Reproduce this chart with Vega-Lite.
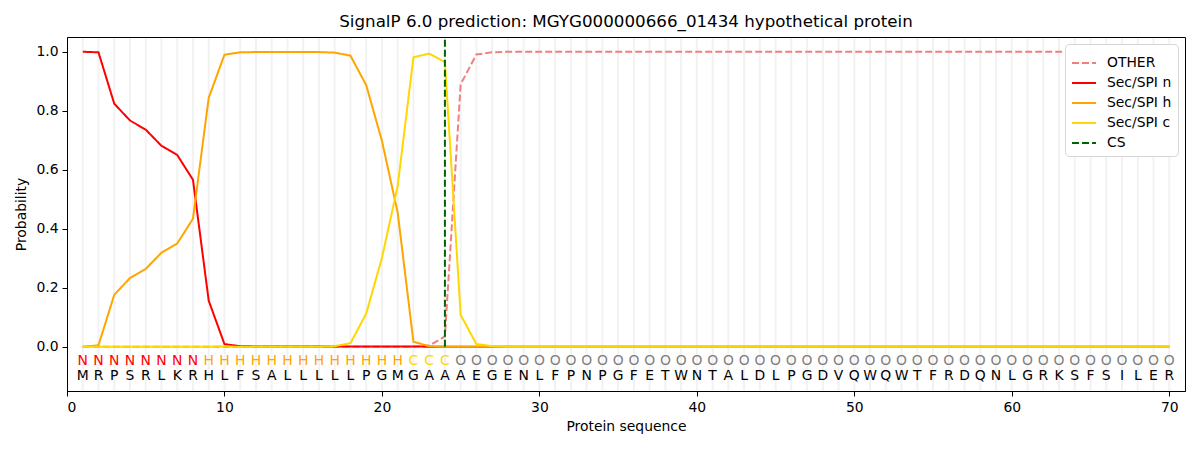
{
  "$schema": "https://vega.github.io/schema/vega-lite/v6.json",
  "width": 1118,
  "height": 354,
  "autosize": {"type": "none"},
  "padding": {"left": 67, "top": 37, "right": 15, "bottom": 59},
  "background": "white",
  "title": {
    "text": "SignalP 6.0 prediction: MGYG000000666_01434 hypothetical protein",
    "font": "DejaVu Sans",
    "fontSize": 16.7,
    "fontWeight": "normal",
    "color": "black",
    "offset": 5
  },
  "config": {
    "view": {"stroke": "black", "strokeWidth": 1},
    "axis": {
      "labelFont": "DejaVu Sans",
      "titleFont": "DejaVu Sans",
      "labelFontSize": 13.9,
      "titleFontSize": 13.9,
      "titleFontWeight": "normal",
      "labelColor": "black",
      "titleColor": "black",
      "domainColor": "black",
      "tickColor": "black",
      "tickSize": 5,
      "grid": false
    },
    "legend": {
      "labelFont": "DejaVu Sans",
      "labelFontSize": 13.9,
      "labelColor": "black"
    }
  },
  "datasets": {
    "seq": [
      {"pos": 1, "aa": "M", "lab": "N", "OTHER": 0, "Sec/SPI n": 1.0, "Sec/SPI h": 0, "Sec/SPI c": 0},
      {"pos": 2, "aa": "R", "lab": "N", "OTHER": 0, "Sec/SPI n": 0.998, "Sec/SPI h": 0.005, "Sec/SPI c": 0},
      {"pos": 3, "aa": "P", "lab": "N", "OTHER": 0, "Sec/SPI n": 0.824, "Sec/SPI h": 0.176, "Sec/SPI c": 0},
      {"pos": 4, "aa": "S", "lab": "N", "OTHER": 0, "Sec/SPI n": 0.767, "Sec/SPI h": 0.233, "Sec/SPI c": 0},
      {"pos": 5, "aa": "R", "lab": "N", "OTHER": 0, "Sec/SPI n": 0.736, "Sec/SPI h": 0.264, "Sec/SPI c": 0},
      {"pos": 6, "aa": "L", "lab": "N", "OTHER": 0, "Sec/SPI n": 0.681, "Sec/SPI h": 0.319, "Sec/SPI c": 0},
      {"pos": 7, "aa": "K", "lab": "N", "OTHER": 0, "Sec/SPI n": 0.65, "Sec/SPI h": 0.35, "Sec/SPI c": 0},
      {"pos": 8, "aa": "R", "lab": "N", "OTHER": 0, "Sec/SPI n": 0.566, "Sec/SPI h": 0.434, "Sec/SPI c": 0},
      {"pos": 9, "aa": "H", "lab": "H", "OTHER": 0, "Sec/SPI n": 0.156, "Sec/SPI h": 0.844, "Sec/SPI c": 0},
      {"pos": 10, "aa": "L", "lab": "H", "OTHER": 0, "Sec/SPI n": 0.009, "Sec/SPI h": 0.99, "Sec/SPI c": 0.001},
      {"pos": 11, "aa": "F", "lab": "H", "OTHER": 0, "Sec/SPI n": 0.002, "Sec/SPI h": 0.998, "Sec/SPI c": 0},
      {"pos": 12, "aa": "S", "lab": "H", "OTHER": 0, "Sec/SPI n": 0.001, "Sec/SPI h": 0.999, "Sec/SPI c": 0},
      {"pos": 13, "aa": "A", "lab": "H", "OTHER": 0, "Sec/SPI n": 0.001, "Sec/SPI h": 0.999, "Sec/SPI c": 0},
      {"pos": 14, "aa": "L", "lab": "H", "OTHER": 0, "Sec/SPI n": 0.001, "Sec/SPI h": 0.999, "Sec/SPI c": 0},
      {"pos": 15, "aa": "L", "lab": "H", "OTHER": 0, "Sec/SPI n": 0.001, "Sec/SPI h": 0.999, "Sec/SPI c": 0},
      {"pos": 16, "aa": "L", "lab": "H", "OTHER": 0, "Sec/SPI n": 0.001, "Sec/SPI h": 0.999, "Sec/SPI c": 0},
      {"pos": 17, "aa": "L", "lab": "H", "OTHER": 0, "Sec/SPI n": 0.001, "Sec/SPI h": 0.997, "Sec/SPI c": 0.002},
      {"pos": 18, "aa": "L", "lab": "H", "OTHER": 0, "Sec/SPI n": 0.001, "Sec/SPI h": 0.987, "Sec/SPI c": 0.012},
      {"pos": 19, "aa": "P", "lab": "H", "OTHER": 0, "Sec/SPI n": 0.001, "Sec/SPI h": 0.887, "Sec/SPI c": 0.112},
      {"pos": 20, "aa": "G", "lab": "H", "OTHER": 0, "Sec/SPI n": 0.001, "Sec/SPI h": 0.698, "Sec/SPI c": 0.301},
      {"pos": 21, "aa": "M", "lab": "H", "OTHER": 0, "Sec/SPI n": 0.001, "Sec/SPI h": 0.455, "Sec/SPI c": 0.545},
      {"pos": 22, "aa": "G", "lab": "C", "OTHER": 0, "Sec/SPI n": 0.001, "Sec/SPI h": 0.017, "Sec/SPI c": 0.981},
      {"pos": 23, "aa": "A", "lab": "C", "OTHER": 0.004, "Sec/SPI n": 0, "Sec/SPI h": 0.002, "Sec/SPI c": 0.994},
      {"pos": 24, "aa": "A", "lab": "C", "OTHER": 0.035, "Sec/SPI n": 0, "Sec/SPI h": 0, "Sec/SPI c": 0.965},
      {"pos": 25, "aa": "A", "lab": "O", "OTHER": 0.89, "Sec/SPI n": 0, "Sec/SPI h": 0, "Sec/SPI c": 0.108},
      {"pos": 26, "aa": "E", "lab": "O", "OTHER": 0.991, "Sec/SPI n": 0, "Sec/SPI h": 0, "Sec/SPI c": 0.009},
      {"pos": 27, "aa": "G", "lab": "O", "OTHER": 0.998, "Sec/SPI n": 0, "Sec/SPI h": 0, "Sec/SPI c": 0.002},
      {"pos": 28, "aa": "E", "lab": "O", "OTHER": 1.0, "Sec/SPI n": 0, "Sec/SPI h": 0, "Sec/SPI c": 0},
      {"pos": 29, "aa": "N", "lab": "O", "OTHER": 1.0, "Sec/SPI n": 0, "Sec/SPI h": 0, "Sec/SPI c": 0},
      {"pos": 30, "aa": "L", "lab": "O", "OTHER": 1.0, "Sec/SPI n": 0, "Sec/SPI h": 0, "Sec/SPI c": 0},
      {"pos": 31, "aa": "F", "lab": "O", "OTHER": 1.0, "Sec/SPI n": 0, "Sec/SPI h": 0, "Sec/SPI c": 0},
      {"pos": 32, "aa": "P", "lab": "O", "OTHER": 1.0, "Sec/SPI n": 0, "Sec/SPI h": 0, "Sec/SPI c": 0},
      {"pos": 33, "aa": "N", "lab": "O", "OTHER": 1.0, "Sec/SPI n": 0, "Sec/SPI h": 0, "Sec/SPI c": 0},
      {"pos": 34, "aa": "P", "lab": "O", "OTHER": 1.0, "Sec/SPI n": 0, "Sec/SPI h": 0, "Sec/SPI c": 0},
      {"pos": 35, "aa": "G", "lab": "O", "OTHER": 1.0, "Sec/SPI n": 0, "Sec/SPI h": 0, "Sec/SPI c": 0},
      {"pos": 36, "aa": "F", "lab": "O", "OTHER": 1.0, "Sec/SPI n": 0, "Sec/SPI h": 0, "Sec/SPI c": 0},
      {"pos": 37, "aa": "E", "lab": "O", "OTHER": 1.0, "Sec/SPI n": 0, "Sec/SPI h": 0, "Sec/SPI c": 0},
      {"pos": 38, "aa": "T", "lab": "O", "OTHER": 1.0, "Sec/SPI n": 0, "Sec/SPI h": 0, "Sec/SPI c": 0},
      {"pos": 39, "aa": "W", "lab": "O", "OTHER": 1.0, "Sec/SPI n": 0, "Sec/SPI h": 0, "Sec/SPI c": 0},
      {"pos": 40, "aa": "N", "lab": "O", "OTHER": 1.0, "Sec/SPI n": 0, "Sec/SPI h": 0, "Sec/SPI c": 0},
      {"pos": 41, "aa": "T", "lab": "O", "OTHER": 1.0, "Sec/SPI n": 0, "Sec/SPI h": 0, "Sec/SPI c": 0},
      {"pos": 42, "aa": "A", "lab": "O", "OTHER": 1.0, "Sec/SPI n": 0, "Sec/SPI h": 0, "Sec/SPI c": 0},
      {"pos": 43, "aa": "L", "lab": "O", "OTHER": 1.0, "Sec/SPI n": 0, "Sec/SPI h": 0, "Sec/SPI c": 0},
      {"pos": 44, "aa": "D", "lab": "O", "OTHER": 1.0, "Sec/SPI n": 0, "Sec/SPI h": 0, "Sec/SPI c": 0},
      {"pos": 45, "aa": "L", "lab": "O", "OTHER": 1.0, "Sec/SPI n": 0, "Sec/SPI h": 0, "Sec/SPI c": 0},
      {"pos": 46, "aa": "P", "lab": "O", "OTHER": 1.0, "Sec/SPI n": 0, "Sec/SPI h": 0, "Sec/SPI c": 0},
      {"pos": 47, "aa": "G", "lab": "O", "OTHER": 1.0, "Sec/SPI n": 0, "Sec/SPI h": 0, "Sec/SPI c": 0},
      {"pos": 48, "aa": "D", "lab": "O", "OTHER": 1.0, "Sec/SPI n": 0, "Sec/SPI h": 0, "Sec/SPI c": 0},
      {"pos": 49, "aa": "V", "lab": "O", "OTHER": 1.0, "Sec/SPI n": 0, "Sec/SPI h": 0, "Sec/SPI c": 0},
      {"pos": 50, "aa": "Q", "lab": "O", "OTHER": 1.0, "Sec/SPI n": 0, "Sec/SPI h": 0, "Sec/SPI c": 0},
      {"pos": 51, "aa": "W", "lab": "O", "OTHER": 1.0, "Sec/SPI n": 0, "Sec/SPI h": 0, "Sec/SPI c": 0},
      {"pos": 52, "aa": "Q", "lab": "O", "OTHER": 1.0, "Sec/SPI n": 0, "Sec/SPI h": 0, "Sec/SPI c": 0},
      {"pos": 53, "aa": "W", "lab": "O", "OTHER": 1.0, "Sec/SPI n": 0, "Sec/SPI h": 0, "Sec/SPI c": 0},
      {"pos": 54, "aa": "T", "lab": "O", "OTHER": 1.0, "Sec/SPI n": 0, "Sec/SPI h": 0, "Sec/SPI c": 0},
      {"pos": 55, "aa": "F", "lab": "O", "OTHER": 1.0, "Sec/SPI n": 0, "Sec/SPI h": 0, "Sec/SPI c": 0},
      {"pos": 56, "aa": "R", "lab": "O", "OTHER": 1.0, "Sec/SPI n": 0, "Sec/SPI h": 0, "Sec/SPI c": 0},
      {"pos": 57, "aa": "D", "lab": "O", "OTHER": 1.0, "Sec/SPI n": 0, "Sec/SPI h": 0, "Sec/SPI c": 0},
      {"pos": 58, "aa": "Q", "lab": "O", "OTHER": 1.0, "Sec/SPI n": 0, "Sec/SPI h": 0, "Sec/SPI c": 0},
      {"pos": 59, "aa": "N", "lab": "O", "OTHER": 1.0, "Sec/SPI n": 0, "Sec/SPI h": 0, "Sec/SPI c": 0},
      {"pos": 60, "aa": "L", "lab": "O", "OTHER": 1.0, "Sec/SPI n": 0, "Sec/SPI h": 0, "Sec/SPI c": 0},
      {"pos": 61, "aa": "G", "lab": "O", "OTHER": 1.0, "Sec/SPI n": 0, "Sec/SPI h": 0, "Sec/SPI c": 0},
      {"pos": 62, "aa": "R", "lab": "O", "OTHER": 1.0, "Sec/SPI n": 0, "Sec/SPI h": 0, "Sec/SPI c": 0},
      {"pos": 63, "aa": "K", "lab": "O", "OTHER": 1.0, "Sec/SPI n": 0, "Sec/SPI h": 0, "Sec/SPI c": 0},
      {"pos": 64, "aa": "S", "lab": "O", "OTHER": 1.0, "Sec/SPI n": 0, "Sec/SPI h": 0, "Sec/SPI c": 0},
      {"pos": 65, "aa": "F", "lab": "O", "OTHER": 1.0, "Sec/SPI n": 0, "Sec/SPI h": 0, "Sec/SPI c": 0},
      {"pos": 66, "aa": "S", "lab": "O", "OTHER": 1.0, "Sec/SPI n": 0, "Sec/SPI h": 0, "Sec/SPI c": 0},
      {"pos": 67, "aa": "I", "lab": "O", "OTHER": 1.0, "Sec/SPI n": 0, "Sec/SPI h": 0, "Sec/SPI c": 0},
      {"pos": 68, "aa": "L", "lab": "O", "OTHER": 1.0, "Sec/SPI n": 0, "Sec/SPI h": 0, "Sec/SPI c": 0},
      {"pos": 69, "aa": "E", "lab": "O", "OTHER": 1.0, "Sec/SPI n": 0, "Sec/SPI h": 0, "Sec/SPI c": 0},
      {"pos": 70, "aa": "R", "lab": "O", "OTHER": 1.0, "Sec/SPI n": 0, "Sec/SPI h": 0, "Sec/SPI c": 0}
    ],
    "cs": [{"pos": 24, "series": "CS"}]
  },
  "data": {"name": "seq"},
  "layer": [
    {
      "mark": {"type": "rule", "color": "#f2f2f2", "strokeWidth": 2},
      "encoding": {
        "x": {"field": "pos", "type": "quantitative", "scale": {"domain": [0, 71], "nice": false, "zero": false},
          "axis": {"values": [0, 10, 20, 30, 40, 50, 60, 70], "title": "Protein sequence", "titlePadding": 6, "labelPadding": 4}},
        "y": {"datum": -0.148},
        "y2": {"datum": 1.047}
      }
    },
    {
      "transform": [
        {"fold": ["OTHER", "Sec/SPI n", "Sec/SPI h", "Sec/SPI c"], "as": ["series", "prob"]}
      ],
      "mark": {"type": "line", "strokeWidth": 2},
      "encoding": {
        "x": {"field": "pos", "type": "quantitative"},
        "y": {"field": "prob", "type": "quantitative",
          "scale": {"domain": [-0.15, 1.05], "nice": false, "zero": false},
          "axis": {"values": [0, 0.2, 0.4, 0.6, 0.8, 1.0], "format": ".1f", "title": "Probability", "titlePadding": 7, "labelPadding": 4}},
        "color": {"field": "series", "type": "nominal",
          "scale": {"domain": ["OTHER", "Sec/SPI n", "Sec/SPI h", "Sec/SPI c", "CS"],
            "range": ["#f08080", "#ff0000", "#ffa500", "#ffd700", "#006400"]},
          "sort": ["OTHER", "Sec/SPI n", "Sec/SPI h", "Sec/SPI c", "CS"],
          "legend": {"title": null, "orient": "top-right", "offset": 7, "fillColor": "white",
            "strokeColor": "#d6d6d6", "cornerRadius": 4, "padding": 6, "symbolType": "stroke",
            "symbolSize": 576, "symbolStrokeWidth": 2, "rowPadding": -2, "labelOffset": 10}},
        "strokeDash": {"field": "series", "type": "nominal",
          "scale": {"domain": ["OTHER", "Sec/SPI n", "Sec/SPI h", "Sec/SPI c", "CS"],
            "range": [[7, 3], [1, 0], [1, 0], [1, 0], [7, 3]]},
          "sort": ["OTHER", "Sec/SPI n", "Sec/SPI h", "Sec/SPI c", "CS"],
          "legend": {"title": null, "orient": "top-right", "offset": 7, "fillColor": "white",
            "strokeColor": "#d6d6d6", "cornerRadius": 4, "padding": 6, "symbolType": "stroke",
            "symbolSize": 576, "symbolStrokeWidth": 2, "rowPadding": -2, "labelOffset": 10}},
        "order": {"field": "pos", "type": "quantitative"}
      }
    },
    {
      "data": {"name": "cs"},
      "mark": {"type": "rule", "strokeWidth": 2},
      "encoding": {
        "x": {"field": "pos", "type": "quantitative"},
        "y": {"datum": 0},
        "y2": {"datum": 1.05},
        "color": {"field": "series", "type": "nominal"},
        "strokeDash": {"field": "series", "type": "nominal"}
      }
    },
    {
      "mark": {"type": "text", "font": "DejaVu Sans", "fontSize": 13.9, "baseline": "middle", "align": "center"},
      "encoding": {
        "x": {"field": "pos", "type": "quantitative"},
        "y": {"datum": -0.048},
        "text": {"field": "lab"},
        "color": {
          "condition": [
            {"test": "datum.lab === 'N'", "value": "#ff0000"},
            {"test": "datum.lab === 'H'", "value": "#ffa500"},
            {"test": "datum.lab === 'C'", "value": "#ffd700"}
          ],
          "value": "#808080"
        }
      }
    },
    {
      "mark": {"type": "text", "font": "DejaVu Sans", "fontSize": 13.9, "baseline": "middle", "align": "center", "color": "black"},
      "encoding": {
        "x": {"field": "pos", "type": "quantitative"},
        "y": {"datum": -0.1},
        "text": {"field": "aa"}
      }
    }
  ]
}
